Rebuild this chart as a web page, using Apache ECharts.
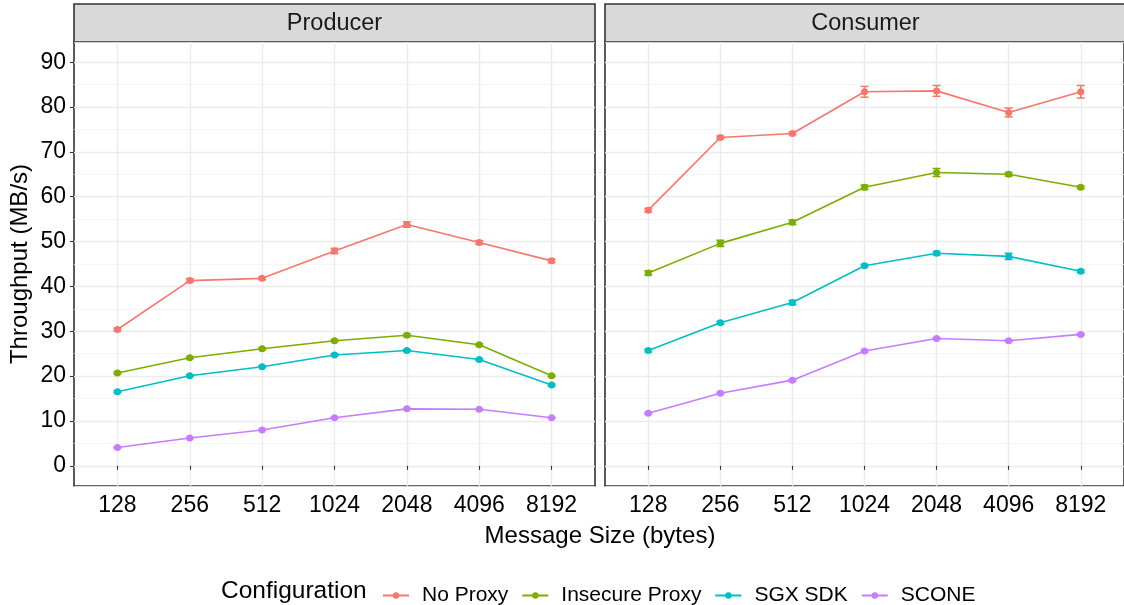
<!DOCTYPE html>
<html>
<head>
<meta charset="utf-8">
<script src="https://cdn.jsdelivr.net/npm/echarts@6/dist/echarts.min.js"></script>
<style>html,body{margin:0;padding:0;background:#fff}#c{width:1124px;height:605px}</style>
</head>
<body>
<div id="c"></div>
<script>
const categories = ['128', '256', '512', '1024', '2048', '4096', '8192'];
const panels = ['Producer', 'Consumer'];
const configs = ['No Proxy', 'Insecure Proxy', 'SGX SDK', 'SCONE'];
const colors = ['#F8766D', '#7CAE00', '#00BFC4', '#C77CFF'];
const yTicks = [0, 10, 20, 30, 40, 50, 60, 70, 80, 90];

// Producer throughput (MB/s)
const noProxyP   = [30.4, 41.3, 41.8, 47.9, 53.8, 49.8, 45.7];
const insecureP  = [20.7, 24.1, 26.1, 27.9, 29.1, 27.0, 20.1];
const sgxP       = [16.5, 20.1, 22.1, 24.7, 25.7, 23.7, 18.0];
const sconeP     = [4.1, 6.2, 8.0, 10.7, 12.7, 12.6, 10.7];
// Consumer throughput (MB/s)
const noProxyC   = [57.0, 73.2, 74.1, 83.4, 83.6, 78.8, 83.4];
const insecureC  = [43.0, 49.6, 54.3, 62.1, 65.4, 65.0, 62.1];
const sgxC       = [25.7, 31.9, 36.4, 44.6, 47.4, 46.7, 43.4];
const sconeC     = [11.7, 16.2, 19.1, 25.6, 28.4, 27.9, 29.3];
// Error bar half-widths
const noProxyPErr  = [0.3, 0.4, 0.3, 0.6, 0.6, 0.4, 0.4];
const insecurePErr = [0.2, 0.2, 0.2, 0.2, 0.3, 0.2, 0.2];
const sgxPErr      = [0.2, 0.2, 0.2, 0.2, 0.2, 0.2, 0.2];
const sconePErr    = [0.1, 0.1, 0.1, 0.1, 0.1, 0.1, 0.1];
const noProxyCErr  = [0.4, 0.3, 0.3, 1.2, 1.2, 1.0, 1.4];
const insecureCErr = [0.5, 0.7, 0.5, 0.5, 0.9, 0.4, 0.3];
const sgxCErr      = [0.3, 0.3, 0.5, 0.3, 0.4, 0.7, 0.3];
const sconeCErr    = [0.2, 0.2, 0.2, 0.2, 0.2, 0.2, 0.2];

const values = [[noProxyP, insecureP, sgxP, sconeP], [noProxyC, insecureC, sgxC, sconeC]];
const errors = [[noProxyPErr, insecurePErr, sgxPErr, sconePErr], [noProxyCErr, insecureCErr, sgxCErr, sconeCErr]];

const FONT = 'Liberation Sans, Arial, sans-serif';
const gridLeft = [74, 605], gridTop = 42, gridW = 521, gridH = 444;
const chart = echarts.init(document.getElementById('c'), null, {renderer: 'canvas'});

const grids = [], xAxes = [], yAxes = [], series = [], graphics = [];
panels.forEach((p, pi) => {
  grids.push({left: gridLeft[pi], top: gridTop, width: gridW, height: gridH, containLabel: false,
    show: true, borderColor: '#333333', borderWidth: 1.6, backgroundColor: '#fff'});
  xAxes.push({type: 'value', gridIndex: pi, position: 'bottom', min: -0.6, max: categories.length - 0.4, splitNumber: 7,
    axisLine: {show: false},
    axisTick: {show: true, length: 4, lineStyle: {color: '#333', width: 1.1}, customValues: categories.map((c, i) => i)},
    axisLabel: {show: true, color: '#000', fontSize: 23, fontFamily: FONT, margin: 8,
      customValues: categories.map((c, i) => i),
      formatter: v => (Number.isInteger(v) && categories[v] !== undefined ? categories[v] : '')},
    splitLine: {show: true, lineStyle: {color: '#EBEBEB', width: 1.4}}
  });
  // minor grid axis
  yAxes.push({type: 'value', gridIndex: pi, position: 'left', min: -4.5, max: 94.5, splitNumber: 20,
    axisLine: {show: false}, axisTick: {show: false}, axisLabel: {show: false},
    splitLine: {show: true, lineStyle: {color: '#F2F2F2', width: 0.8}}});
  // major axis
  yAxes.push({type: 'value', gridIndex: pi, position: 'left', min: -4.5, max: 94.5, splitNumber: 10,
    axisLine: {show: false},
    axisTick: {show: pi === 0, length: 4, lineStyle: {color: '#333', width: 1.1}, customValues: yTicks},
    axisLabel: {show: pi === 0, color: '#000', fontSize: 23, fontFamily: FONT, margin: 8, customValues: yTicks,
      formatter: v => (yTicks.indexOf(v) >= 0 ? String(v) : '')},
    splitLine: {show: true, lineStyle: {color: '#EBEBEB', width: 1.4}},
    name: pi === 0 ? 'Throughput (MB/s)' : '', nameLocation: 'middle', nameGap: 42,
    nameTextStyle: {fontSize: 24, fontFamily: FONT, color: '#000'}
  });
  graphics.push({type: 'rect', shape: {x: gridLeft[pi], y: 4, width: gridW, height: 38},
    style: {fill: '#D9D9D9', stroke: '#333333', lineWidth: 1.6}});
  graphics.push({type: 'text', x: gridLeft[pi] + gridW / 2, y: 24,
    style: {text: p, fill: '#1A1A1A', font: '23.5px ' + FONT, textAlign: 'center', textVerticalAlign: 'middle'}});
  configs.forEach((name, ci) => {
    const vals = values[pi][ci], errs = errors[pi][ci];
    series.push({type: 'line', name: name, xAxisIndex: pi, yAxisIndex: pi * 2 + 1,
      data: vals.map((v, i) => [i, v]), color: colors[ci], symbol: 'circle', symbolSize: 7,
      showSymbol: true, lineStyle: {width: 1.6, color: colors[ci]}, itemStyle: {color: colors[ci]},
      emphasis: {disabled: true}, animation: false, z: 3});
    series.push({type: 'custom', name: name, xAxisIndex: pi, yAxisIndex: pi * 2 + 1,
      data: vals.map((v, i) => [i, v - errs[i], v + errs[i]]), animation: false, z: 4,
      renderItem: (params, api) => {
        const x = api.value(0);
        const lo = api.coord([x, api.value(1)]), hi = api.coord([x, api.value(2)]);
        const w = 4, st = {stroke: colors[ci], lineWidth: 1.5};
        return {type: 'group', children: [
          {type: 'line', shape: {x1: lo[0], y1: lo[1], x2: hi[0], y2: hi[1]}, style: st},
          {type: 'line', shape: {x1: lo[0] - w, y1: lo[1], x2: lo[0] + w, y2: lo[1]}, style: st},
          {type: 'line', shape: {x1: hi[0] - w, y1: hi[1], x2: hi[0] + w, y2: hi[1]}, style: st}
        ]};
      }});
  });
});

graphics.push({type: 'text', x: 600, y: 536,
  style: {text: 'Message Size (bytes)', fill: '#000', font: '24px ' + FONT, textAlign: 'center', textVerticalAlign: 'middle'}});
graphics.push({type: 'text', x: 221, y: 591,
  style: {text: 'Configuration', fill: '#000', font: '24.5px ' + FONT, textAlign: 'left', textVerticalAlign: 'middle'}});

chart.setOption({
  animation: false,
  backgroundColor: '#fff',
  grid: grids, xAxis: xAxes, yAxis: yAxes, series: series,
  graphic: graphics,
  legend: {data: configs.map((n, i) => ({name: n, itemStyle: {color: colors[i]}, lineStyle: {color: colors[i]}})),
    left: 377, top: 580, orient: 'horizontal', itemWidth: 26, itemHeight: 8, itemGap: 13,
    textStyle: {fontSize: 21, fontFamily: FONT, color: '#000', padding: [0, 0, 0, 8]},
    selectedMode: false}
});
</script>
</body>
</html>
